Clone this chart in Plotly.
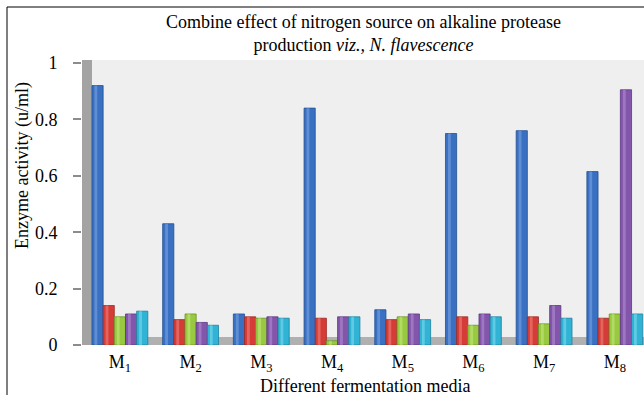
import plotly.graph_objects as go

categories = ["M<sub>1</sub>", "M<sub>2</sub>", "M<sub>3</sub>", "M<sub>4</sub>",
              "M<sub>5</sub>", "M<sub>6</sub>", "M<sub>7</sub>", "M<sub>8</sub>"]
series_blue = [0.92, 0.43, 0.11, 0.84, 0.125, 0.75, 0.76, 0.615]
series_red = [0.14, 0.09, 0.10, 0.095, 0.09, 0.10, 0.10, 0.095]
series_green = [0.10, 0.11, 0.095, 0.015, 0.10, 0.07, 0.075, 0.11]
series_purple = [0.11, 0.08, 0.10, 0.10, 0.11, 0.11, 0.14, 0.905]
series_cyan = [0.12, 0.07, 0.095, 0.10, 0.09, 0.10, 0.095, 0.11]
y_ticks = [0, 0.2, 0.4, 0.6, 0.8, 1]
y_tick_labels = ["0", "0.2", "0.4", "0.6", "0.8", "1"]

colors = ["#3a70c2", "#d63c37", "#98c940", "#8456ab", "#30b3d4"]
lights = ["#7fa8e6", "#f08580", "#c8ea85", "#b393d3", "#86dcf0"]
edges = ["#22508f", "#9c2824", "#6a9426", "#5a3680", "#1d82a0"]
series = [series_blue, series_red, series_green, series_purple, series_cyan]

W, H = 644, 395
L, R, T, B = 82, 0, 60, 50
pw = W - L - R
ph = H - T - B
unit = 70.7
x_range = [-0.537, -0.537 + pw / unit]
y_range = [0, ph / 282.0]

bar_w = 0.158
start = -0.396

fig = go.Figure()
xs = list(range(len(categories)))
for i, (s, c, lt, e) in enumerate(zip(series, colors, lights, edges)):
    off = start + i * bar_w
    fig.add_trace(go.Bar(x=xs, y=s, offset=off, width=bar_w,
                         marker=dict(color=c, line=dict(color=e, width=0.8)),
                         showlegend=False, hoverinfo="y"))
    fig.add_trace(go.Bar(x=xs, y=s, offset=off + 0.035, width=0.04,
                         marker=dict(color=lt, line=dict(width=0), opacity=0.55),
                         showlegend=False, hoverinfo="skip"))

font_family = "Liberation Serif"

def px_to_paper_x(px):
    return (px - L) / pw

def py_to_paper_y(py):
    return (T + ph - py) / ph

shapes = [
    dict(type="rect", xref="paper", yref="paper", x0=0, x1=1,
         y0=0, y1=8 / ph, fillcolor="#b0b0b0", line=dict(width=0), layer="below"),
    dict(type="rect", xref="paper", yref="paper", x0=0, x1=10 / pw,
         y0=0, y1=1, fillcolor="#a3a3a3", line=dict(width=0), layer="below"),
    dict(type="rect", xref="paper", yref="paper",
         x0=px_to_paper_x(7), x1=px_to_paper_x(660),
         y0=py_to_paper_y(410), y1=py_to_paper_y(7),
         line=dict(color="#000000", width=1), fillcolor="rgba(0,0,0,0)"),
]

annotations = [
    dict(text="Combine effect of nitrogen source on alkaline protease<br>production <i>viz., N. flavescence</i>",
         xref="paper", yref="paper", x=px_to_paper_x(363), y=py_to_paper_y(34),
         xanchor="center", yanchor="middle",
         showarrow=False, font=dict(family=font_family, size=18, color="#000")),
    dict(text="Different fermentation media", xref="paper", yref="paper",
         x=px_to_paper_x(365), y=py_to_paper_y(386), xanchor="center", yanchor="middle",
         showarrow=False, font=dict(family=font_family, size=18, color="#000")),
    dict(text="Enzyme activity (u/ml)", xref="paper", yref="paper", textangle=-90,
         x=px_to_paper_x(22), y=py_to_paper_y(166), xanchor="center", yanchor="middle",
         showarrow=False, font=dict(family=font_family, size=18, color="#000")),
]

fig.update_layout(
    width=W, height=H,
    margin=dict(l=L, r=R, t=T, b=B, autoexpand=False),
    paper_bgcolor="#ffffff", plot_bgcolor="#efefef",
    barmode="overlay",
    font=dict(family=font_family, color="#000"),
    shapes=shapes, annotations=annotations,
    xaxis=dict(range=x_range, tickmode="array", tickvals=xs, ticktext=categories,
               showgrid=False, zeroline=False, showline=False, ticks="",
               tickfont=dict(family=font_family, size=18, color="#000"),
               ticklabelstandoff=4, fixedrange=True),
    yaxis=dict(range=y_range, tickmode="array", tickvals=y_ticks, ticktext=y_tick_labels,
               showgrid=False, zeroline=False, showline=False, ticks="outside", ticklen=8,
               tickcolor="#8c8c8c", tickwidth=2,
               tickfont=dict(family=font_family, size=18, color="#000"),
               ticklabelstandoff=12, fixedrange=True),
)

fig.write_html("out.html")
